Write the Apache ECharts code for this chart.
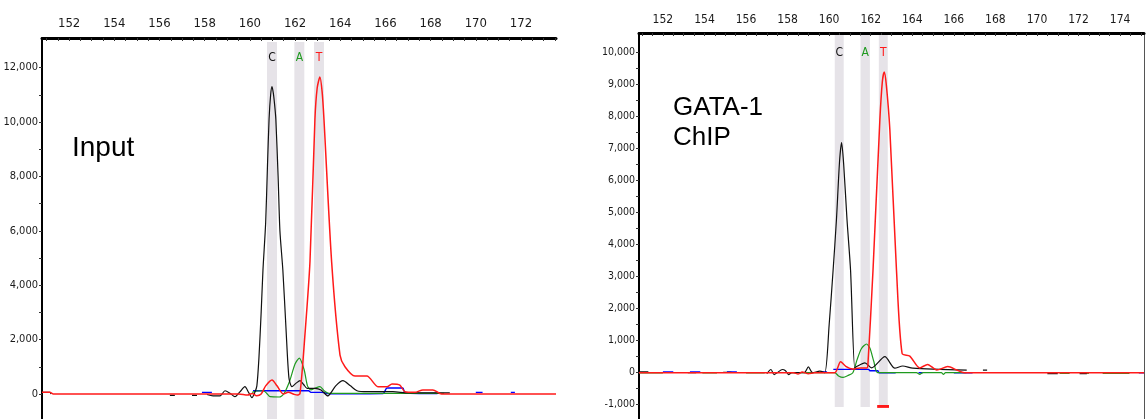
<!DOCTYPE html>
<html>
<head>
<meta charset="utf-8">
<script src="https://cdn.jsdelivr.net/npm/echarts@6/dist/echarts.min.js"></script>
<style>
  html, body { margin: 0; padding: 0; background: #fff; }
  #chart { width: 1147px; height: 419px; }
</style>
</head>
<body>
<div id="chart"></div>
<script>
// ---------- Input electropherogram (left) ----------
const inputXLabels = [152, 154, 156, 158, 160, 162, 164, 166, 168, 170, 172];
const inputYLabels = [0, 2000, 4000, 6000, 8000, 10000, 12000];

// C trace (black); null marks a gap in the trace
const inputCX = [150.8,151.15,151.2,151.2,156.46,156.68,156.68,157.44,157.66,157.66,158.1,158.37,158.68,158.9,159.12,159.34,159.56,159.78,159.95,160.09,160.22,160.31,160.4,160.5,160.58,160.7,160.78,160.85,160.92,160.98,161.04,161.1,161.15,161.25,161.33,161.46,161.6,161.73,161.86,162.05,162.22,162.38,162.53,162.88,163.15,163.45,163.8,164.12,164.45,164.74,165.2,166.33,167.0,168.85];
const inputCY = [60,60,0,null,-50,-50,null,-50,-50,null,-20,-70,-70,120,30,-100,80,270,50,-135,60,300,1300,3000,4560,6300,8400,10100,11000,11300,11050,10600,10100,8000,6000,4560,2400,590,270,400,490,350,210,210,150,-70,300,490,300,120,85,85,40,40];

// T trace (red)
const inputTX = [150.8,151.15,151.3,159.5,159.9,160.1,160.3,160.5,160.7,160.98,161.2,161.48,161.7,161.95,162.1,162.22,162.44,162.66,162.88,162.98,163.1,163.2,163.28,163.62,163.99,164.21,164.65,165.18,165.67,166.07,166.29,166.64,166.86,167.3,167.66,168.1,168.41,168.6,173.55];
const inputTY = [60,60,0,0,-40,20,-60,0,300,515,300,0,60,-10,-40,20,2200,4850,10100,11250,11650,11100,10100,4850,1430,1000,660,660,270,270,370,330,85,60,150,150,20,0,0];

// A trace (green)
const inputAX = [160.1,160.3,160.6,160.75,160.9,161.3,161.5,161.75,162.0,162.19,162.4,162.55,162.7,162.9,163.1,163.3,163.5,168.6];
const inputAY = [60,110,120,20,-100,-110,0,450,1100,1320,900,300,150,220,270,110,20,20];

// G trace (blue)
const inputGX = [157.88,158.32,158.32,160.14,162.6,162.7,163.2,163.5,165.9,166.07,166.77,166.86,167.5,168.3,168.3,170.0,170.3,170.3,171.55,171.73];
const inputGY = [60,60,null,120,120,60,60,10,20,220,220,50,20,20,null,60,60,null,60,60];

// called bases: [letter, from, to]
const inputBases = [['C', 160.76, 161.20], ['A', 161.97, 162.41], ['T', 162.84, 163.28]];

// ---------- GATA-1 ChIP electropherogram (right) ----------
const chipXLabels = [152, 154, 156, 158, 160, 162, 164, 166, 168, 170, 172, 174];
const chipYLabels = [-1000, 0, 1000, 2000, 3000, 4000, 5000, 6000, 7000, 8000, 9000, 10000];

const chipCX = [150.85,151.3,151.3,153.2,153.6,153.6,154.9,155.3,155.3,157.0,157.2,157.35,157.5,157.75,157.9,158.05,158.2,158.8,159.0,159.2,159.55,159.79,160.0,160.19,160.35,160.5,160.6,160.7,160.86,161.03,161.23,161.31,161.72,162.04,162.68,163.16,163.54,164.02,166.62,166.62,167.4,167.6,167.6,170.5,171.0,171.0,172.05,172.4];
const chipCY = [30,30,null,0,0,null,10,10,null,-30,100,-60,0,100,60,-60,0,0,180,0,50,0,1500,3200,4770,6600,7190,6500,4770,3200,150,190,310,150,500,140,210,140,80,null,80,80,null,-30,-30,null,-30,-30];

const chipTX = [150.85,158.3,158.5,158.7,159.0,159.3,160.27,160.55,160.8,161.14,161.48,161.81,161.86,162.11,162.44,162.56,162.65,162.75,162.92,163.24,163.51,163.88,164.36,164.74,165.18,165.71,166.14,166.5,175.15];
const chipTY = [0,0,-40,20,-30,0,0,340,200,115,150,150,200,3200,7900,9100,9400,9000,7600,3200,600,520,150,260,85,190,85,0,0];

const chipAX = [150.85,152.0,152.0,153.9,154.6,154.6,156.0,156.9,156.9,158.0,159.5,160.27,160.45,160.67,160.9,161.14,161.34,161.55,161.8,161.96,162.15,162.34,164.2,164.36,164.5,165.4,165.5,165.6,166.6,166.6,171.09,171.57,171.57,172.2,172.5,172.5,173.16,174.45];
const chipAY = [-10,-10,null,-10,-10,null,-10,-10,null,0,0,0,-100,-145,-90,0,400,750,897,770,350,0,0,-50,0,0,-50,0,0,null,-20,-20,null,-20,-20,null,-20,-20];

const chipGX = [152.0,152.5,152.5,153.3,153.8,153.8,155.08,155.56,155.56,159.6,159.9,159.9,160.2,161.9,161.96,162.34,162.4,163.2,163.2,164.3,164.5,164.5,166.0,166.9,166.9,174.9,175.15];
const chipGY = [20,20,null,20,20,null,20,20,null,20,20,null,105,105,60,60,0,0,null,0,0,null,0,0,null,0,0];

const chipBases = [['C', 160.27, 160.70], ['A', 161.51, 161.96], ['T', 162.39, 162.82]];
// base-call marker under T: [from, to, top, bottom]
const chipMarker = [162.31, 162.88, -1010, -1100];

// ---------- helpers ----------
const COLORS = { C: '#111111', A: '#1f9a1f', T: '#ff1a1a', G: '#0000ff' };
const BAND = '#e6e3e8';
const NUM_FONT = "'Liberation Sans Narrow', 'DejaVu Sans Condensed', 'Liberation Sans', sans-serif";

function pairs(xs, ys) {
  return xs.map((x, i) => [x, ys[i] === null ? '-' : ys[i]]);
}
function range(a, b, step) {
  const out = [];
  for (let v = a; v <= b + 1e-9; v += step) out.push(Math.round(v * 100) / 100);
  return out;
}
function trace(name, xs, ys, color, width, gi) {
  return {
    type: 'line', name, data: pairs(xs, ys),
    xAxisIndex: gi, yAxisIndex: gi,
    showSymbol: false, connectNulls: false, z: 3,
    smooth: 0.25,
    lineStyle: { color, width }, silent: true
  };
}
function bands(bases, top, bottom, gi, labelDist, extra) {
  const data = bases.map(([b, x0, x1]) => [
    { name: b, xAxis: x0, yAxis: top,
      label: { color: COLORS[b] } },
    { xAxis: x1, yAxis: bottom }
  ]);
  if (extra) data.push(extra);
  return {
    type: 'line', data: [], xAxisIndex: gi, yAxisIndex: gi, z: 1, silent: true,
    markArea: {
      silent: true,
      itemStyle: { color: BAND },
      label: { show: true, position: 'insideTop', distance: labelDist,
               fontFamily: NUM_FONT, fontSize: 12 },
      data
    }
  };
}
const fmt = v => v.toLocaleString('en-US');

function xAxis(gi, min, max, labels, fs, margin) {
  return {
    type: 'value', gridIndex: gi, position: 'top', min, max,
    axisLine: { show: true, onZero: false, lineStyle: { color: '#000', width: 3 } },
    axisTick: { show: true, inside: true, length: 3, customValues: range(150, 176, 0.5),
                lineStyle: { color: '#333', width: 1 } },
    axisLabel: { customValues: labels, fontFamily: NUM_FONT, fontSize: fs,
                 color: '#1a1a1a', margin },
    splitLine: { show: false }
  };
}
function yAxis(gi, min, max, labels, ticks, fs) {
  return {
    type: 'value', gridIndex: gi, position: 'left', min, max,
    axisLine: { show: true, onZero: false, lineStyle: { color: '#000', width: 2 } },
    axisTick: { show: true, length: 3, customValues: ticks,
                lineStyle: { color: '#333', width: 1 } },
    axisLabel: { customValues: labels, formatter: fmt, fontFamily: NUM_FONT,
                 fontSize: fs, color: '#1a1a1a', margin: 4 },
    splitLine: { show: false }
  };
}

const chart = echarts.init(document.getElementById('chart'), null, { renderer: 'canvas' });
chart.setOption({
  animation: false,
  backgroundColor: '#fff',
  grid: [
    { left: 42, top: 38, width: 514, height: 410.4, containLabel: false, outerBoundsMode: 'none' },
    { left: 639, top: 33, width: 505, height: 403.7, containLabel: false, outerBoundsMode: 'none' }
  ],
  xAxis: [
    xAxis(0, 150.8, 173.55, inputXLabels, 13, 8),
    xAxis(1, 150.85, 175.15, chipXLabels, 12, 7)
  ],
  yAxis: [
    yAxis(0, -2000, 13088, inputYLabels, range(-1000, 12000, 1000), 11),
    yAxis(1, -2000, 10616, chipYLabels, range(-1000, 10000, 500), 10.5),
    { type: 'value', gridIndex: 1, position: 'right', min: -2000, max: 10616,
      axisLine: { show: true, onZero: false, lineStyle: { color: '#555', width: 1 } },
      axisTick: { show: false }, axisLabel: { show: false }, splitLine: { show: false } }
  ],
  series: [
    bands(inputBases, 12941, -2000, 0, 10),
    trace('G', inputGX, inputGY, COLORS.G, 1.4, 0),
    trace('A', inputAX, inputAY, COLORS.A, 1.2, 0),
    trace('C', inputCX, inputCY, COLORS.C, 1.2, 0),
    trace('T', inputTX, inputTY, COLORS.T, 1.5, 0),

    bands(chipBases, 10553, -1072, 1, 12, [
      { xAxis: chipMarker[0], yAxis: chipMarker[2], itemStyle: { color: '#ff1a1a' }, label: { show: false } },
      { xAxis: chipMarker[1], yAxis: chipMarker[3] }
    ]),
    trace('G', chipGX, chipGY, COLORS.G, 1.4, 1),
    trace('A', chipAX, chipAY, COLORS.A, 1.2, 1),
    trace('C', chipCX, chipCY, COLORS.C, 1.2, 1),
    trace('T', chipTX, chipTY, COLORS.T, 1.5, 1)
  ],
  graphic: [
    { type: 'text', left: 72, top: 134,
      style: { text: 'Input', fontFamily: "'Liberation Sans', Arial, sans-serif", fontSize: 28, fill: '#000' } },
    { type: 'text', left: 673, top: 93,
      style: { text: 'GATA-1\nChIP', fontFamily: "'Liberation Sans', Arial, sans-serif", fontSize: 26,
               lineHeight: 30, fill: '#000' } }
  ]
});
</script>
</body>
</html>
